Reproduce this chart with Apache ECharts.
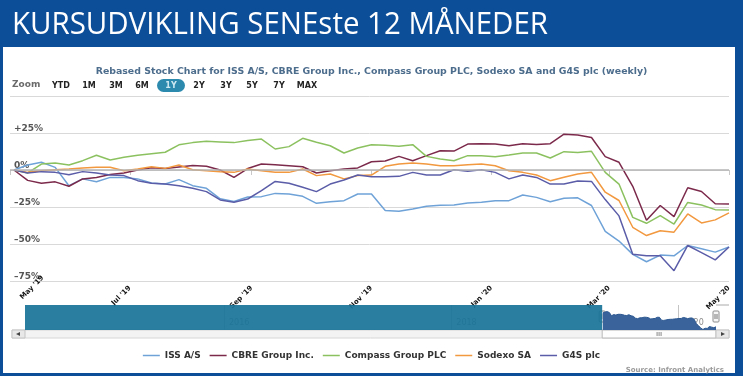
<!DOCTYPE html>
<html>
<head>
<meta charset="utf-8">
<script src="https://cdn.jsdelivr.net/npm/echarts@6/dist/echarts.min.js"></script>
<style>
  html, body { margin: 0; padding: 0; }
  #frame { position: absolute; left: 0; top: 0; width: 743px; height: 376px; background: #0d4e99; }
  #paper { position: absolute; left: 3px; top: 47px; width: 732px; height: 326px; background: #fff; }
  #chart { position: absolute; left: 0; top: 0; width: 743px; height: 376px; }
</style>
</head>
<body>
<div id="frame"><div id="paper"></div></div>
<div id="chart"></div>
<script>
// weekly closes, rebased to 0% at the first week
const weeks = [
  '2019-05-03', '2019-05-10', '2019-05-17', '2019-05-24', '2019-05-31',
  '2019-06-07', '2019-06-14', '2019-06-21', '2019-06-28',
  '2019-07-05', '2019-07-12', '2019-07-19', '2019-07-26',
  '2019-08-02', '2019-08-09', '2019-08-16', '2019-08-23', '2019-08-30',
  '2019-09-06', '2019-09-13', '2019-09-20', '2019-09-27',
  '2019-10-04', '2019-10-11', '2019-10-18', '2019-10-25',
  '2019-11-01', '2019-11-08', '2019-11-15', '2019-11-22', '2019-11-29',
  '2019-12-06', '2019-12-13', '2019-12-20', '2019-12-27',
  '2020-01-03', '2020-01-10', '2020-01-17', '2020-01-24', '2020-01-31',
  '2020-02-07', '2020-02-14', '2020-02-21', '2020-02-28',
  '2020-03-06', '2020-03-13', '2020-03-20', '2020-03-27',
  '2020-04-03', '2020-04-10', '2020-04-17', '2020-04-24', '2020-05-01'
];
const issAS = [0, 3.4, 5.2, 1.8, -10.6, -6, -7.9, -5, -5, -6, -8.8, -9.5, -6.5, -10.6, -12.4, -19.5, -21.3, -18.2, -18, -15.8,
  -16.2, -17.8, -22.5, -21.4, -20.7, -16.2, -16.2, -27.4, -27.9, -26.3, -24.5, -23.8, -23.6, -22.3, -21.8, -20.7, -20.7, -16.9, -18.5, -21.4,
  -19.1, -18.8, -24, -41.5, -48, -57, -62, -57.5, -58, -51, -53.2, -55.5, -52];
const cbre = [0, -7, -9, -8, -11, -6, -5, -3, -2, 0, 1.5, 1, 2, 3, 2.5, 0, -5, 1, 4, 3.6,
  2.9, 2.2, -2, -0.5, 0.7, 1.4, 5.6, 6.1, 9.2, 6.3, 9.7, 13, 12.8, 17.5, 17.8, 17.6, 16.4, 17.8, 17.3, 17.8,
  24.2, 23.6, 22, 9, 5.2, -11, -34, -24, -31.5, -12, -14.5, -22.8, -23];
const compass = [0, -2, 4, 4.7, 3.4, 6.3, 10, 6.8, 8.6, 10, 11, 12, 17, 18.5, 19.4, 19, 18.5, 20, 20.9, 14.2,
  15.8, 21.4, 18.7, 16.4, 11.5, 14.9, 17.1, 16.7, 16, 17.1, 9.2, 7.4, 6.3, 9.7, 9.7, 9, 10.1, 11.5, 11.5, 8.1,
  12.4, 11.9, 12.6, -1.6, -9.5, -32, -36, -30.8, -36.5, -21.9, -23.6, -26.8, -27];
const sodexo = [0, -1.6, -0.5, 0.2, 0.7, 1.4, 1.8, 1.8, -0.5, 0.7, 2.2, 1.1, 3.4, 0.2, -0.5, -1.1, -1.6, 0.7, -0.5, -1.6,
  -1.6, 0.7, -3.8, -2.7, -6, -3.8, -3.4, 2.5, 4, 4.7, 4, 2.9, 2.9, 3.6, 4, 2.9, -0.5, -1.6, -3.4, -7.2,
  -4.9, -2.7, -1.6, -15, -20.6, -38.7, -44.3, -41, -42, -29.7, -35.8, -33.7, -29];
const g4s = [0, -2, -1.1, -1.6, -3.2, -1.1, -2, -3.4, -3.8, -7.2, -9, -9.5, -10.6, -12.4, -14.6, -20.2, -21.8, -19.6, -14, -7.7,
  -9, -11.7, -14.6, -9.5, -6.8, -3.4, -4.5, -4.5, -4.3, -1.6, -3.4, -3.4, 0.2, -0.9, 0.2, -1.6, -6, -3.4, -5, -9.5,
  -9.5, -7.5, -7.7, -20, -31, -57, -58, -58, -68, -51, -55.8, -60.7, -52];

const seriesNames = ['ISS A/S', 'CBRE Group Inc.', 'Compass Group PLC', 'Sodexo SA', 'G4S plc'];
const seriesValues = [issAS, cbre, compass, sodexo, g4s];
const seriesColors = ['#6fa3d8', '#7c2a4b', '#8cc160', '#f2983f', '#5b5da8'];

const tickDates = ['2019-05-01', '2019-07-01', '2019-09-01', '2019-11-01', '2020-01-01', '2020-03-01', '2020-05-01'];
const tickLabels = ["May '19", "Jul '19", "Sep '19", "Nov '19", "Jan '20", "Mar '20", "May '20"];

// navigator (full history, only the last year is visible)
const navRange = ['2014-04-01', '2020-05-01'];
const navYears = ['2016-01-01', '2018-01-01', '2020-01-01'];
const navYearLabels = ['2016', '2018', '2020'];
const zoomButtons = ['YTD', '1M', '3M', '6M', '1Y', '2Y', '3Y', '5Y', '7Y', 'MAX'];
const zoomButtonX = [61, 89, 116, 142, 171, 199, 226, 252, 279, 307];

const DAY = 86400000;
const parse = (s) => {
  const [y, m, d] = s.split('-').map(Number);
  return Date.UTC(y, m - 1, d);
};
const tickTimes = tickDates.map(parse);
const navYearTimes = navYears.map(parse);
const font = 'DejaVu Sans';

const chart = echarts.init(document.getElementById('chart'), null, { renderer: 'canvas' });

const lineSeries = seriesNames.map((name, k) => ({
  name,
  type: 'line',
  xAxisIndex: 0,
  yAxisIndex: 0,
  symbol: 'none',
  lineStyle: { color: seriesColors[k], width: 1.5 },
  itemStyle: { color: seriesColors[k] },
  data: weeks.map((d, i) => [parse(d), seriesValues[k][i]]),
  markLine: k === 0 ? {
    silent: true,
    symbol: 'none',
    label: { show: false },
    lineStyle: { color: '#b4b4b4', width: 1.5, type: 'solid' },
    data: [{ yAxis: 0 }],
  } : undefined,
}));

chart.setOption({
  animation: false,
  title: [
    {
      text: 'Rebased Stock Chart for ISS A/S, CBRE Group Inc., Compass Group PLC, Sodexo SA and G4S plc (weekly)',
      left: 'center',
      top: 62,
      textStyle: { color: '#4d6d8d', fontSize: 9.4, fontWeight: 'bold', fontFamily: font },
    },
    {
      text: 'Source: Infront Analytics',
      right: 14,
      top: 362,
      textStyle: { color: '#9a9a9a', fontSize: 7, fontWeight: 'bold', fontFamily: font },
    },
  ],
  legend: {
    top: 346,
    left: 'center',
    icon: 'rect',
    itemWidth: 17,
    itemHeight: 1.5,
    itemGap: 9,
    data: seriesNames,
    textStyle: { color: '#333', fontSize: 9, fontWeight: 'bold', fontFamily: font },
  },
  grid: [
    { left: 10, right: 14, top: 96, bottom: 95, outerBoundsMode: 'none', containLabel: false },
    { left: 25, right: 27, top: 305, height: 25, outerBoundsMode: 'none', containLabel: false },
  ],
  xAxis: [
    {
      type: 'value',
      gridIndex: 0,
      min: tickTimes[0],
      max: tickTimes[tickTimes.length - 1],
      axisLine: { show: false },
      axisTick: { show: true, length: 5, customValues: tickTimes, lineStyle: { color: '#c8c8c8' } },
      splitLine: { show: false },
      axisLabel: {
        customValues: tickTimes,
        rotate: 45,
        margin: 6,
        color: '#111',
        fontSize: 7,
        fontWeight: 'bold',
        fontFamily: font,
        alignMinLabel: 'left',
        formatter: (v) => {
          const i = tickTimes.indexOf(v);
          if (i < 0) return '';
          return i === 0 ? '{first|' + tickLabels[i] + '}' : tickLabels[i];
        },
        rich: {
          first: { padding: [32, 0, 0, 0], color: '#111', fontSize: 7, fontWeight: 'bold', fontFamily: font },
        },
      },
    },
    {
      type: 'value',
      gridIndex: 1,
      min: parse(navRange[0]),
      max: parse(navRange[1]),
      axisLine: { show: false },
      axisTick: { show: false, customValues: navYearTimes },
      splitLine: { show: true, lineStyle: { color: '#c4c4c4' } },
      axisLabel: {
        inside: true,
        customValues: navYearTimes,
        align: 'left',
        margin: 3,
        padding: [0, 0, 0, 5],
        color: '#8a8a8a',
        fontSize: 8,
        fontFamily: font,
        formatter: (v) => {
          const i = navYearTimes.indexOf(v);
          return i >= 0 ? navYearLabels[i] : '';
        },
      },
    },
  ],
  yAxis: [
    {
      type: 'value',
      gridIndex: 0,
      min: -75,
      max: 50,
      interval: 25,
      axisLine: { show: false },
      axisTick: { show: false },
      axisLabel: {
        inside: true,
        verticalAlign: 'bottom',
        margin: 4,
        color: '#555',
        fontSize: 9,
        fontWeight: 'bold',
        fontFamily: font,
        formatter: (v) => (v === 50 ? '' : v > 0 ? '+' + v + '%' : v < 0 ? '\u2013' + -v + '%' : '0%'),
      },
      splitLine: { lineStyle: { color: '#d9d9d9' } },
    },
    {
      type: 'value',
      gridIndex: 1,
      min: 36,
      max: 130,
      show: false,
    },
  ],
  series: [
    ...lineSeries,
    {
      name: 'navigator',
      type: 'line',
      xAxisIndex: 1,
      yAxisIndex: 1,
      symbol: 'none',
      lineStyle: { color: '#2c5890', width: 1 },
      areaStyle: { color: '#3a639c', opacity: 1 },
      data: weeks.map((d, i) => [parse(d), 100 + issAS[i]]),
      markArea: {
        silent: true,
        itemStyle: { color: 'rgba(26,117,153,0.93)' },
        data: [[{ xAxis: parse(navRange[0]) }, { xAxis: parse(weeks[0]) - 2 * DAY }]],
      },
    },
  ],
});

// header, range selector buttons, navigator handles and scrollbar
const selStart = chart.convertToPixel({ xAxisIndex: 1 }, parse(tickDates[0]));
const selEnd = chart.convertToPixel({ xAxisIndex: 1 }, parse(navRange[1]));
const navTop = 305, barTop = 330, barH = 8;
const left = 12, right = 729;

const handle = (x) => ({
  type: 'group',
  children: [
    { type: 'rect', shape: { x: x - 3, y: 311, width: 6, height: 11, r: 1 }, style: { fill: '#f6f6f6', stroke: '#8c8c8c', lineWidth: 1 } },
    { type: 'line', shape: { x1: x - 1, y1: 314, x2: x - 1, y2: 319 }, style: { stroke: '#777', lineWidth: 1 } },
    { type: 'line', shape: { x1: x + 1, y1: 314, x2: x + 1, y2: 319 }, style: { stroke: '#777', lineWidth: 1 } },
  ],
});

const elements = [
  {
    type: 'text',
    x: 12,
    y: 10,
    scaleX: 0.95,
    style: { text: 'KURSUDVIKLING SENEste 12 MÅNEDER', fill: '#fff', font: '31px "Open Sans"' },
  },
  {
    type: 'text',
    x: 12,
    y: 85,
    style: { text: 'Zoom', fill: '#6a6a6a', font: 'bold 9px "DejaVu Sans"', verticalAlign: 'middle' },
  },
  {
    type: 'rect',
    shape: { x: 157, y: 79, width: 28, height: 13, r: 6.5 },
    style: { fill: '#2c8aae' },
  },
  ...zoomButtons.map((b, i) => ({
    type: 'text',
    x: zoomButtonX[i],
    y: 85.5,
    style: {
      text: b,
      fill: b === '1Y' ? '#cfeaf3' : '#222',
      font: 'bold 8px "DejaVu Sans"',
      align: 'center',
      verticalAlign: 'middle',
    },
  })),
  { type: 'line', shape: { x1: selEnd, y1: navTop, x2: right, y2: navTop }, style: { stroke: '#aaa', lineWidth: 1 } },
  { type: 'rect', shape: { x: left, y: barTop, width: right - left, height: barH }, style: { fill: '#f3f3f3', stroke: '#d6d6d6', lineWidth: 1 } },
  { type: 'rect', shape: { x: selStart, y: barTop, width: selEnd - selStart, height: barH }, style: { fill: '#fdfdfd', stroke: '#b8b8b8', lineWidth: 1 } },
  ...[-2, 0, 2].map((d) => ({
    type: 'line',
    shape: { x1: (selStart + selEnd) / 2 + d, y1: barTop + 2, x2: (selStart + selEnd) / 2 + d, y2: barTop + barH - 2 },
    style: { stroke: '#888', lineWidth: 1 },
  })),
  { type: 'rect', shape: { x: left, y: barTop, width: 13, height: barH }, style: { fill: '#e8e8e8', stroke: '#c4c4c4', lineWidth: 1 } },
  { type: 'polygon', shape: { points: [[left + 4, barTop + 4], [left + 8, barTop + 2], [left + 8, barTop + 6]] }, style: { fill: '#444' } },
  { type: 'rect', shape: { x: right - 13, y: barTop, width: 13, height: barH }, style: { fill: '#e8e8e8', stroke: '#c4c4c4', lineWidth: 1 } },
  { type: 'polygon', shape: { points: [[right - 4, barTop + 4], [right - 8, barTop + 2], [right - 8, barTop + 6]] }, style: { fill: '#444' } },
  handle(selStart),
  handle(selEnd),
];

chart.setOption({ graphic: { elements } });
</script>
</body>
</html>
